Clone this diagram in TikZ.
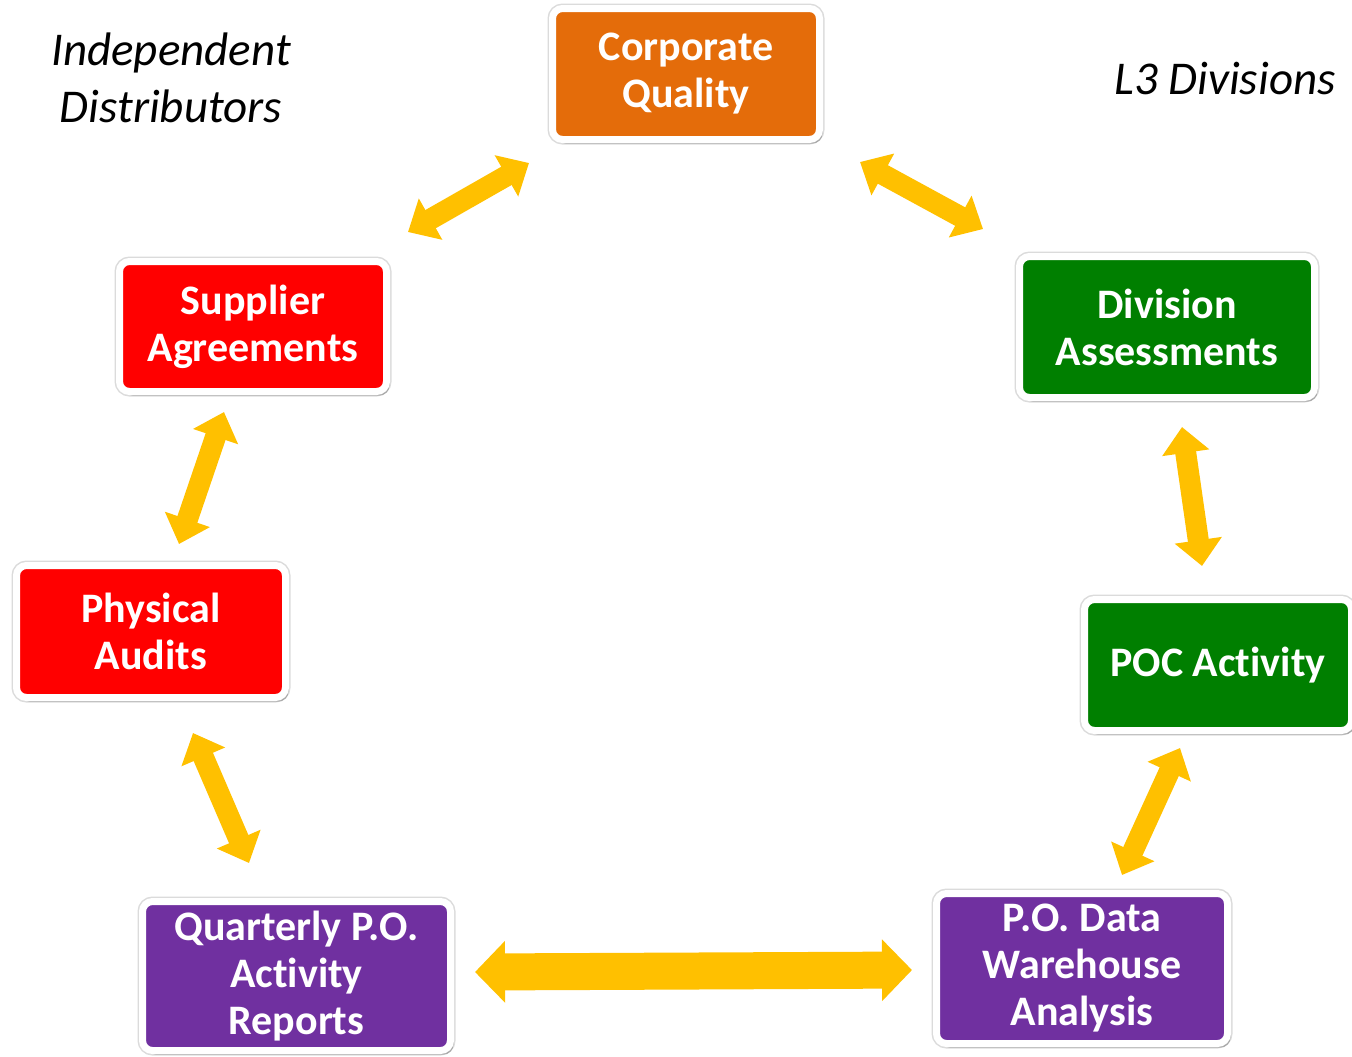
\documentclass[tikz,border=0pt]{standalone}
\usepackage{fontspec}
\setmainfont{Carlito}[Ligatures=NoCommon]
\usetikzlibrary{arrows.meta,shadows}

\definecolor{cqorange}{HTML}{E46C0A}
\definecolor{distred}{HTML}{FF0000}
\definecolor{divgreen}{HTML}{007F00}
\definecolor{popurple}{HTML}{7030A0}
\definecolor{arrowgold}{HTML}{FFC000}

\begin{document}
\begin{tikzpicture}[x=0.5pt,y=-0.5pt,
	box/.style={draw=white,line width=3.5pt,rounded corners=5pt,text=white,align=center,
		font=\bfseries\fontsize{21}{23.5}\selectfont,
		preaction={draw=black!14,line width=5pt},
		drop shadow={shadow xshift=1.5pt,shadow yshift=-2pt,opacity=0.35,fill=black!70}},
	link/.style={draw=arrowgold,line width=10.5pt,{Triangle[width=23pt,length=13pt]}-{Triangle[width=23pt,length=13pt]}},
	wide link/.style={draw=arrowgold,line width=18.5pt,{Triangle[width=30pt,length=15pt]}-{Triangle[width=30pt,length=15pt]}},
	heading/.style={font=\itshape\fontsize{23.5}{28.5}\selectfont,align=center}]
\useasboundingbox (0,0) rectangle (1352,1056);

\node[heading] (indep) at (171,78) {Independent\\Distributors};
\node[heading] (lthree) at (1225,78) {L3 Divisions};

\node[box,fill=cqorange,minimum width=133.5pt,minimum height=65.5pt] (corpq) at (686,74) {Corporate\\Quality};
\node[box,fill=distred,minimum width=133.5pt,minimum height=65pt] (supplier) at (253,326.5) {Supplier\\Agreements};
\node[box,fill=distred,minimum width=134.5pt,minimum height=66pt] (physical) at (151,631.5) {Physical\\Audits};
\node[box,fill=divgreen,minimum width=147.5pt,minimum height=70.5pt] (division) at (1167,327) {Division\\Assessments};
\node[box,fill=divgreen,minimum width=133.5pt,minimum height=65.5pt] (poc) at (1218,665) {POC Activity};
\node[box,fill=popurple,minimum width=154pt,minimum height=74.5pt] (quarterly) at (296.5,976) {Quarterly P.O.\\Activity\\Reports};
\node[box,fill=popurple,minimum width=145.5pt,minimum height=75pt] (warehouse) at (1082,968.5) {P.O. Data\\Warehouse\\Analysis};

% two-way arrows round the loop
\draw[link] ([shift={(18,-26)}]supplier.north east) -- ([shift={(-20,20)}]corpq.south west);
\draw[link] ([shift={(37,19)}]corpq.south east) -- ([shift={(-33,-24)}]division.north west);
\draw[link] ([shift={(-29,17)}]supplier.south) -- ([shift={(28,-18)}]physical.north);
\draw[link] ([shift={(15,26)}]division.south) -- ([shift={(-16,-30)}]poc.north);
\draw[link] ([shift={(42,32)}]physical.south) -- ([shift={(-47.5,-35)}]quarterly.north);
\draw[link] ([shift={(-38,14)}]poc.south) -- ([shift={(40,-15)}]warehouse.north);
\draw[wide link] ([shift={(21,-4)}]quarterly.east) -- ([shift={(-21,1.5)}]warehouse.west);
\end{tikzpicture}
\end{document}
